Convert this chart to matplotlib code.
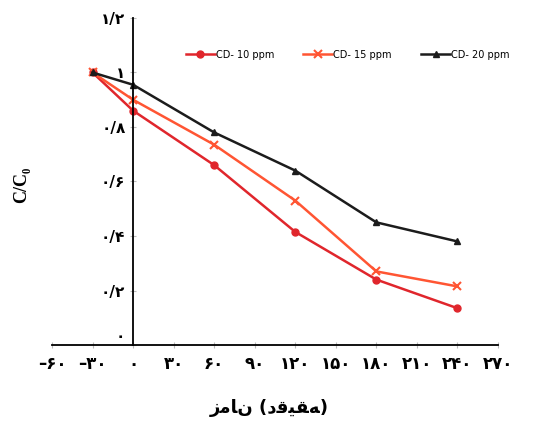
import matplotlib
matplotlib.use("Agg")
import matplotlib.pyplot as plt
from matplotlib.transforms import ScaledTranslation

# time (min) and C/C0 for each CD dose
time = [-30, 0, 60, 120, 180, 240]
cd10 = [1.00, 0.86, 0.66, 0.415, 0.24, 0.135]
cd15 = [1.00, 0.90, 0.735, 0.53, 0.27, 0.215]
cd20 = [1.00, 0.955, 0.78, 0.64, 0.45, 0.38]
labels = ["CD- 10 ppm", "CD- 15 ppm", "CD- 20 ppm"]

xticks = [-60, -30, 0, 30, 60, 90, 120, 150, 180, 210, 240, 270]
yticks = [0, 0.2, 0.4, 0.6, 0.8, 1.0, 1.2]

fa = str.maketrans("0123456789", "۰۱۲۳۴۵۶۷۸۹")

def fa_num(v):
    s = "%g" % abs(v)
    s = s.translate(fa).replace(".", "/")
    return ("–" + s) if v < 0 else s

# shaped arabic glyphs, laid out as in the picture
xlabel = "ﺯﻣﺎﻥ (ﺩﻗﻴﻘﻪ)"

fig = plt.figure(figsize=(5.38, 4.21), dpi=100)
ax = fig.add_axes([52/538, 76/421, 446/538, 327/421])

ax.plot(time, cd10, color="#e0262c", marker="o", ms=5, lw=1.8, label=labels[0])
ax.plot(time, cd15, color="#ff5533", marker="x", ms=6, mew=1.5, lw=1.8, label=labels[1])
ax.plot(time, cd20, color="#1c1c1c", marker="^", ms=5, lw=1.8, label=labels[2])

ax.set_xlim(-60, 270)
ax.set_ylim(0, 1.2)
ax.spines["left"].set_position(("data", 0))
ax.spines["top"].set_visible(False)
ax.spines["right"].set_visible(False)
ax.spines["left"].set_linewidth(1.3)
ax.spines["bottom"].set_linewidth(1.3)

ax.set_xticks(xticks)
ax.set_xticklabels([fa_num(t) for t in xticks], fontsize=12, fontweight="bold",
                   family="DejaVu Sans")
ax.set_yticks(yticks)
ax.set_yticklabels([fa_num(t) for t in yticks], fontsize=11, fontweight="bold",
                   family="DejaVu Sans")
ax.tick_params(axis="both", direction="inout", length=5, color="#bbbbbb", pad=5)
ax.tick_params(axis="y", pad=3)

# zero label sits just above the x axis in the original
zl = ax.get_yticklabels()[0]
zl.set_transform(zl.get_transform() + ScaledTranslation(0, 7/72, fig.dpi_scale_trans))

fig.text(0.5, 0.03, xlabel, ha="center", va="center", fontsize=13,
         fontweight="bold", family="DejaVu Sans")
fig.text(0.04, 0.56, "C/C₀", rotation=90, ha="center", va="center", fontsize=13,
         fontweight="bold", family=["Liberation Serif", "DejaVu Serif"])

ax.legend(loc="upper left", bbox_to_anchor=(0.28, 0.93), ncol=3, frameon=False,
          handlelength=3.0, columnspacing=3.0, handletextpad=0.1,
          prop={"family": "DejaVu Sans", "size": 7})

fig.savefig("out.png", dpi=100)
